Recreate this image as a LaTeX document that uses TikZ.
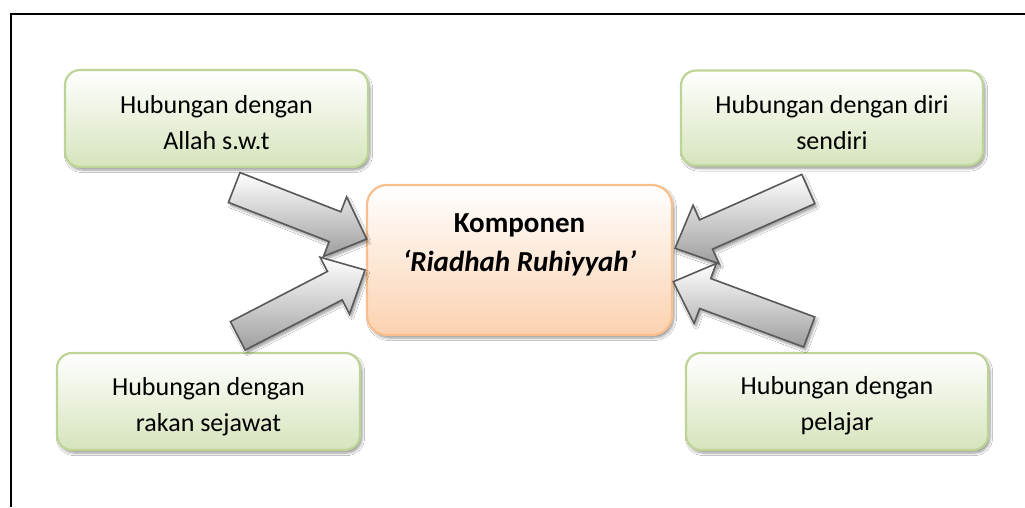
\documentclass[tikz,border=0pt]{standalone}
\usepackage{fontspec}
\setmainfont{Carlito}
\usetikzlibrary{calc,shadows.blur}
\definecolor{gborder}{RGB}{190,212,150}
\definecolor{gfill}{RGB}{214,228,188}
\definecolor{oborder}{RGB}{249,190,140}
\definecolor{ofill}{RGB}{251,210,176}
\definecolor{aline}{RGB}{89,89,89}
\definecolor{agray}{RGB}{158,158,158}
\tikzset{
  softshadow/.style={blur shadow={shadow xshift=2pt,shadow yshift=-3pt,shadow blur radius=2.5pt,shadow blur steps=6,shadow opacity=40}},
  gbox/.style={rounded corners=15pt,draw=gborder,line width=2.2pt,top color=white,bottom color=gfill,
    minimum width=303pt,minimum height=97pt,inner sep=0pt,softshadow},
  obox/.style={rounded corners=20pt,draw=oborder,line width=2.2pt,top color=white,bottom color=ofill,
    minimum width=305pt,minimum height=150pt,inner sep=0pt,softshadow},
  gtxt/.style={align=center,inner sep=0pt,font=\fontsize{26}{36}\selectfont},
  otxt/.style={align=center,inner sep=0pt,font=\fontsize{29}{39}\selectfont\bfseries},
  barrow/.style={draw=aline,line width=1.6pt,line join=miter,top color=white,bottom color=agray,softshadow},
  frameline/.style={line width=2pt,draw=black}
}
\newcommand\blockarrow[2]{%
  \coordinate (hb) at ($(#2)!34pt!(#1)$);
  \draw[barrow] ($(#1)!16pt!90:(#2)$) -- ($(hb)!16pt!90:(#2)$) -- ($(hb)!32pt!90:(#2)$) -- (#2)
     -- ($(hb)!32pt!-90:(#2)$) -- ($(hb)!16pt!-90:(#2)$) -- ($(#1)!16pt!-90:(#2)$) -- cycle;}
\begin{document}
\begin{tikzpicture}[x=1pt,y=-1pt]
\useasboundingbox (0,0) rectangle (1025,507);
\fill[white] (0,0) rectangle (1025,507);
% frame (top and left edges)
\coordinate (fr1) at (1025,13.5);
\coordinate (fr2) at (10.5,13.5);
\coordinate (fr3) at (10.5,507);
\draw[frameline] (fr1) -- (fr2) -- (fr3);

% boxes
\node[gbox] (tl) at (216.5,118.5) {};
\node[gbox,minimum width=302pt,minimum height=95pt] (tr) at (832,118) {};
\node[gbox] (bl) at (208.5,401.5) {};
\node[gbox,minimum width=302pt] (br) at (837,401.5) {};
\node[obox] (c) at (519.5,260) {};

% texts
\node[gtxt] (tlt) at ($(tl.center)+(0,6)$) {\strut Hubungan dengan\\Allah s.w.t\strut};
\node[gtxt] (trt) at ($(tr.center)+(0,6.5)$) {\strut Hubungan dengan diri\\sendiri\strut};
\node[gtxt] (blt) at ($(bl.center)+(0,4.5)$) {\strut Hubungan dengan\\rakan sejawat\strut};
\node[gtxt] (brt) at ($(br.center)+(0,4)$) {\strut Hubungan dengan\\pelajar\strut};
\node[otxt] (ct) at ($(c.center)+(0,-15.6)$) {\strut Komponen\\\itshape ‘Riadhah Ruhiyyah’\strut};

% block arrows
\coordinate (a1t) at (234.2,187.5);  \coordinate (a1h) at (366.7,239);
\coordinate (a2t) at (237.8,335.8);  \coordinate (a2h) at (365,270);
\coordinate (a3t) at (808.3,189);    \coordinate (a3h) at (675,248.3);
\coordinate (a4t) at (809.2,332);    \coordinate (a4h) at (673.3,281.7);
\blockarrow{a1t}{a1h}
\blockarrow{a2t}{a2h}
\blockarrow{a3t}{a3h}
\blockarrow{a4t}{a4h}
\end{tikzpicture}
\end{document}
